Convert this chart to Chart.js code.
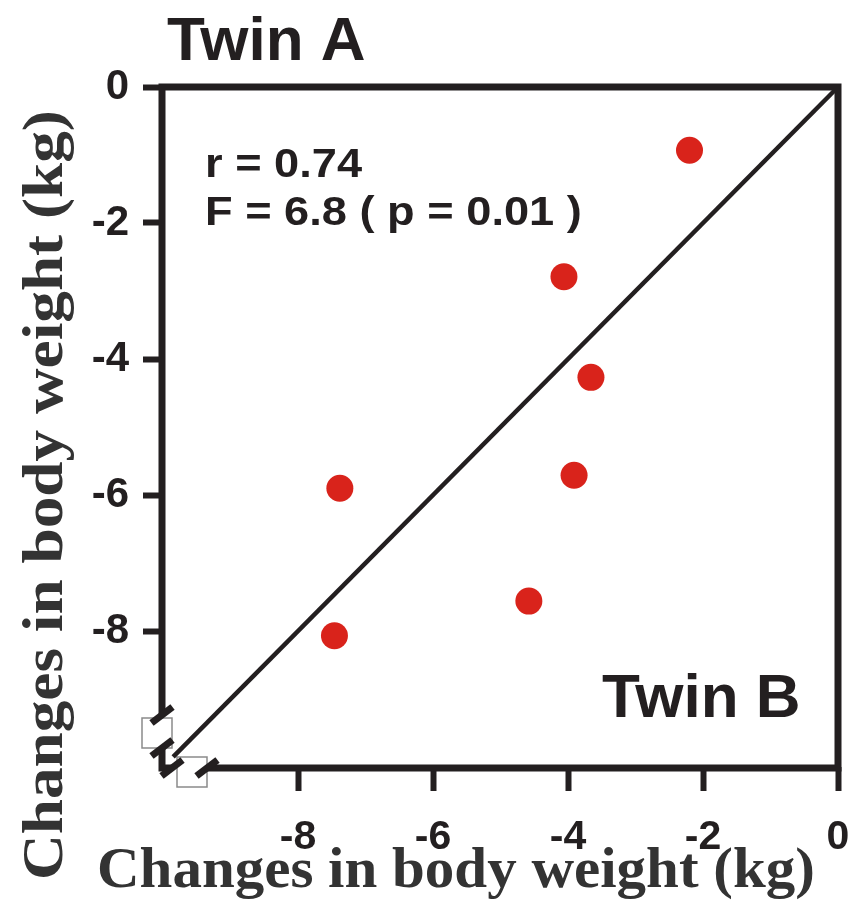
<!DOCTYPE html>
<html>
<head>
<meta charset="utf-8">
<script src="https://cdn.jsdelivr.net/npm/chart.js@4.4.0/dist/chart.umd.min.js"></script>
<style>
  body { margin: 0; background: #fff; }
</style>
</head>
<body>
<canvas id="chart" width="857" height="900"></canvas>
<script>
// weight change of each twin pair (kg)
const twinB = [-2.2, -4.06, -3.66, -3.91, -7.38, -4.58, -7.46];   // x axis
const twinA = [-0.93, -2.79, -4.27, -5.71, -5.90, -7.56, -8.07];  // y axis
const tickValues = [-8, -6, -4, -2, 0];
const identityLine = [-9.85, 0];
const axisMin = -10;
const axisMax = 0;
const statLines = ['r = 0.74', 'F = 6.8 ( p = 0.01 )'];
const axisTitle = 'Changes in body weight (kg)';

const INK = '#231f20';

// frame with the broken corner, the labels and axis titles
const decor = {
  id: 'decor',
  beforeDatasetsDraw(chart) {
    const ctx = chart.ctx;
    const a = chart.chartArea;
    const L = a.left - 1, B = a.bottom + 1;
    ctx.save();
    ctx.strokeStyle = INK;
    ctx.lineWidth = 7;
    ctx.beginPath();
    ctx.moveTo(L, B - 53);
    ctx.lineTo(L, a.top);
    ctx.lineTo(a.right, a.top);
    ctx.lineTo(a.right, B);
    ctx.lineTo(L + 45, B);
    ctx.moveTo(L, B - 20);
    ctx.lineTo(L, B);
    ctx.lineTo(L + 10, B);
    ctx.stroke();

    // little squares in the gaps
    ctx.fillStyle = '#fff';
    ctx.strokeStyle = '#8a8a8a';
    ctx.lineWidth = 1.5;
    [[L - 20, B - 50], [L + 15, B - 11]].forEach(([x, y]) => {
      ctx.fillRect(x, y, 30, 30);
      ctx.strokeRect(x, y, 30, 30);
    });

    // slashes
    ctx.strokeStyle = INK;
    ctx.lineWidth = 7;
    [[L, B - 53], [L, B - 20], [L + 10, B], [L + 45, B]].forEach(([x, y]) => {
      ctx.beginPath();
      ctx.moveTo(x - 10.5, y + 8);
      ctx.lineTo(x + 10.5, y - 8);
      ctx.stroke();
    });
    ctx.restore();
  },
  afterDraw(chart) {
    const ctx = chart.ctx;
    ctx.save();
    ctx.fillStyle = INK;
    ctx.textBaseline = 'alphabetic';
    ctx.font = 'bold 62px "Liberation Sans", Arial, sans-serif';
    ctx.fillText('Twin A', 167, 60);
    ctx.fillText('Twin B', 602, 717);

    ctx.font = 'bold 40px "Liberation Sans", Arial, sans-serif';
    statLines.forEach((t, i) => {
      ctx.save();
      ctx.translate(205, 177 + i * 48);
      ctx.scale(1.13, 1);
      ctx.fillText(t, 0, 0);
      ctx.restore();
    });

    ctx.fillStyle = '#333';
    ctx.font = 'bold 57px "Liberation Serif", "Times New Roman", serif';
    ctx.save();
    ctx.translate(97, 887);
    ctx.scale(1.035, 1);
    ctx.fillText(axisTitle, 0, 0);
    ctx.restore();

    ctx.save();
    ctx.translate(62, 880);
    ctx.rotate(-Math.PI / 2);
    ctx.scale(1.11, 1);
    ctx.fillText(axisTitle, 0, 0);
    ctx.restore();
    ctx.restore();
  }
};

const tickGrid = (len) => ({
  display: true,
  drawOnChartArea: false,
  drawTicks: true,
  tickLength: len,
  tickWidth: 6,
  tickColor: INK,
  color: INK
});

new Chart(document.getElementById('chart'), {
  type: 'scatter',
  data: {
    datasets: [
      {
        data: twinB.map((x, i) => ({ x: x, y: twinA[i] })),
        pointRadius: 13.5,
        pointHoverRadius: 13.5,
        backgroundColor: '#d9231b',
        borderWidth: 0
      },
      {
        type: 'line',
        data: identityLine.map(v => ({ x: v, y: v })),
        borderColor: INK,
        borderWidth: 4.5,
        pointRadius: 0,
        fill: false,
        clip: false
      }
    ]
  },
  options: {
    responsive: false,
    animation: false,
    layout: { padding: { left: 0, right: 19, top: 87, bottom: 0 } },
    plugins: { legend: { display: false }, tooltip: { enabled: false } },
    scales: {
      x: {
        type: 'linear',
        min: axisMin,
        max: axisMax,
        afterBuildTicks: s => { s.ticks = tickValues.map(v => ({ value: v })); },
        afterFit: s => { s.height = 900 - 767; s.paddingLeft = 0; s.paddingRight = 0; },
        grid: tickGrid(24),
        border: { display: false },
        ticks: {
          color: INK,
          padding: 22,
          font: { family: '"Liberation Sans", Arial, sans-serif', size: 41, weight: 'bold' }
        }
      },
      y: {
        type: 'linear',
        min: axisMin,
        max: axisMax,
        afterBuildTicks: s => { s.ticks = tickValues.map(v => ({ value: v })); },
        afterFit: s => { s.width = 163; s.paddingTop = 0; s.paddingBottom = 0; },
        grid: tickGrid(20),
        border: { display: false },
        ticks: {
          color: INK,
          padding: 14,
          font: { family: '"Liberation Sans", Arial, sans-serif', size: 42, weight: 'bold' }
        }
      }
    }
  },
  plugins: [decor]
});
</script>
</body>
</html>
